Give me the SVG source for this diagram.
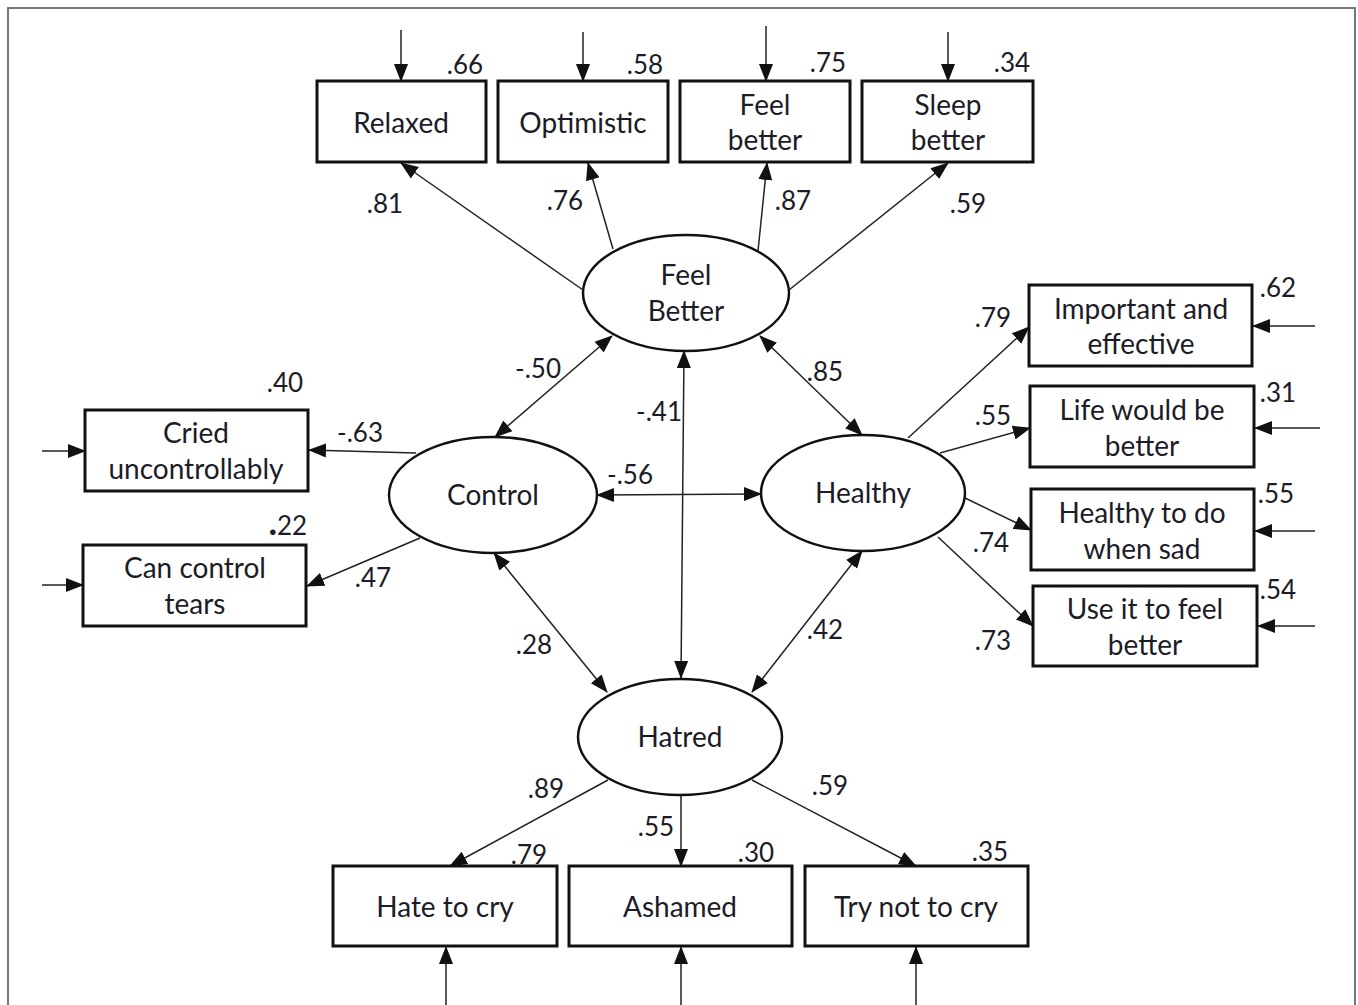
<svg xmlns="http://www.w3.org/2000/svg" width="1358" height="1005" viewBox="0 0 1358 1005">
<style>
.box{fill:#fff;stroke:#111;stroke-width:3}
.ell{fill:#fff;stroke:#111;stroke-width:2.5}
.t{font-family:Lato,"Open Sans",sans-serif;font-size:28px;fill:#1c1c28;text-anchor:middle}
.n{font-family:Lato,"Open Sans",sans-serif;font-size:26px;fill:#1c1c28;text-anchor:middle}
.c{stroke:#222;stroke-width:1.5;fill:none;marker-end:url(#ah)}
.b{marker-start:url(#ah)}
</style>
<defs>
<marker id="ah" markerUnits="userSpaceOnUse" markerWidth="18" markerHeight="16" refX="17" refY="7" orient="auto-start-reverse" viewBox="0 0 18 14">
<path d="M0,0 L18,7 L0,14 Z" fill="#111"/>
</marker>
</defs>
<rect x="8" y="8" width="1347" height="1010" fill="#fff" stroke="#777" stroke-width="2"/>
<g id="connectors">
<line class="c" x1="401" y1="30" x2="401" y2="81"/>
<line class="c" x1="583" y1="32" x2="583" y2="81"/>
<line class="c" x1="766" y1="26" x2="766" y2="81"/>
<line class="c" x1="948" y1="32" x2="948" y2="81"/>
<line class="c" x1="583" y1="290" x2="401" y2="163"/>
<line class="c" x1="613" y1="249" x2="588" y2="163"/>
<line class="c" x1="758" y1="251" x2="767" y2="163"/>
<line class="c" x1="789" y1="290" x2="948" y2="163"/>
<line class="c b" x1="612" y1="336" x2="495" y2="437"/>
<line class="c b" x1="760" y1="336" x2="862" y2="435"/>
<line class="c b" x1="684" y1="351" x2="681" y2="678"/>
<line class="c b" x1="597" y1="495" x2="761" y2="494"/>
<line class="c b" x1="494" y1="553" x2="607" y2="692"/>
<line class="c b" x1="862" y1="551" x2="752" y2="692"/>
<line class="c" x1="416" y1="453" x2="309" y2="450"/>
<line class="c" x1="420" y1="538" x2="307" y2="586"/>
<line class="c" x1="42" y1="451" x2="85" y2="451"/>
<line class="c" x1="42" y1="585" x2="83" y2="585"/>
<line class="c" x1="908" y1="438" x2="1029" y2="327"/>
<line class="c" x1="940" y1="453" x2="1030" y2="428"/>
<line class="c" x1="963" y1="497" x2="1031" y2="530"/>
<line class="c" x1="938" y1="537" x2="1033" y2="626"/>
<line class="c" x1="1315" y1="326" x2="1253" y2="326"/>
<line class="c" x1="1320" y1="428" x2="1255" y2="428"/>
<line class="c" x1="1315" y1="531" x2="1255" y2="531"/>
<line class="c" x1="1315" y1="626" x2="1258" y2="626"/>
<line class="c" x1="608" y1="780" x2="450" y2="866"/>
<line class="c" x1="681" y1="796" x2="681" y2="866"/>
<line class="c" x1="752" y1="780" x2="916" y2="866"/>
<line class="c" x1="446" y1="1005" x2="446" y2="947"/>
<line class="c" x1="681" y1="1005" x2="681" y2="947"/>
<line class="c" x1="916" y1="1005" x2="916" y2="947"/>
</g>
<g id="labels">
<text class="n" x="465" y="74">.66</text>
<text class="n" x="645" y="74">.58</text>
<text class="n" x="828" y="72">.75</text>
<text class="n" x="1012" y="72">.34</text>
<text class="n" x="385" y="213">.81</text>
<text class="n" x="565" y="210">.76</text>
<text class="n" x="793" y="210">.87</text>
<text class="n" x="968" y="213">.59</text>
<text class="n" x="538" y="378">-.50</text>
<text class="n" x="825" y="381">.85</text>
<text class="n" x="659" y="421">-.41</text>
<text class="n" x="630" y="484">-.56</text>
<text class="n" x="534" y="654">.28</text>
<text class="n" x="825" y="639">.42</text>
<text class="n" x="285" y="392">.40</text>
<text class="n" x="360" y="442">-.63</text>
<text class="n" x="288" y="535"><tspan font-weight="900" font-size="34px">.</tspan>22</text>
<text class="n" x="373" y="587">.47</text>
<text class="n" x="1278" y="297">.62</text>
<text class="n" x="1278" y="402">.31</text>
<text class="n" x="1276" y="503">.55</text>
<text class="n" x="1278" y="599">.54</text>
<text class="n" x="993" y="327">.79</text>
<text class="n" x="993" y="425">.55</text>
<text class="n" x="991" y="552">.74</text>
<text class="n" x="993" y="650">.73</text>
<text class="n" x="546" y="798">.89</text>
<text class="n" x="656" y="836">.55</text>
<text class="n" x="830" y="795">.59</text>
<text class="n" x="529" y="864">.79</text>
<text class="n" x="756" y="862">.30</text>
<text class="n" x="990" y="861">.35</text>
</g>
<g id="relaxed"><rect class="box" x="317" y="81" width="169" height="81"/><text class="t" x="401" y="133">Relaxed</text></g>
<g id="optimistic"><rect class="box" x="498" y="81" width="170" height="81"/><text class="t" x="583" y="133">Optimistic</text></g>
<g id="feel-better-item"><rect class="box" x="680" y="81" width="170" height="81"/><text class="t" x="765" y="115">Feel</text><text class="t" x="765" y="150">better</text></g>
<g id="sleep-better"><rect class="box" x="862" y="81" width="171" height="81"/><text class="t" x="948" y="115">Sleep</text><text class="t" x="948" y="150">better</text></g>
<g id="feel-better"><ellipse class="ell" cx="686" cy="293" rx="103" ry="58"/><text class="t" x="686" y="285">Feel</text><text class="t" x="686" y="321">Better</text></g>
<g id="control"><ellipse class="ell" cx="493" cy="495" rx="104" ry="58"/><text class="t" x="493" y="505">Control</text></g>
<g id="healthy"><ellipse class="ell" cx="863" cy="493" rx="102" ry="58"/><text class="t" x="863" y="503">Healthy</text></g>
<g id="hatred"><ellipse class="ell" cx="680" cy="737" rx="102" ry="58"/><text class="t" x="680" y="747">Hatred</text></g>
<g id="cried"><rect class="box" x="85" y="410" width="223" height="81"/><text class="t" x="196" y="443">Cried</text><text class="t" x="196" y="479">uncontrollably</text></g>
<g id="can-control"><rect class="box" x="83" y="545" width="223" height="81"/><text class="t" x="195" y="578">Can control</text><text class="t" x="195" y="614">tears</text></g>
<g id="important"><rect class="box" x="1029" y="285" width="223" height="81"/><text class="t" x="1141" y="319">Important and</text><text class="t" x="1141" y="354">effective</text></g>
<g id="life"><rect class="box" x="1030" y="386" width="224" height="81"/><text class="t" x="1142" y="420">Life would be</text><text class="t" x="1142" y="456">better</text></g>
<g id="healthy-sad"><rect class="box" x="1031" y="489" width="223" height="81"/><text class="t" x="1142" y="523">Healthy to do</text><text class="t" x="1142" y="559">when sad</text></g>
<g id="use-it"><rect class="box" x="1033" y="586" width="224" height="80"/><text class="t" x="1145" y="619">Use it to feel</text><text class="t" x="1145" y="655">better</text></g>
<g id="hate-cry"><rect class="box" x="333" y="866" width="224" height="80"/><text class="t" x="445" y="917">Hate to cry</text></g>
<g id="ashamed"><rect class="box" x="569" y="866" width="223" height="80"/><text class="t" x="680" y="917">Ashamed</text></g>
<g id="try-not"><rect class="box" x="805" y="866" width="223" height="80"/><text class="t" x="916" y="917">Try not to cry</text></g>
</svg>
